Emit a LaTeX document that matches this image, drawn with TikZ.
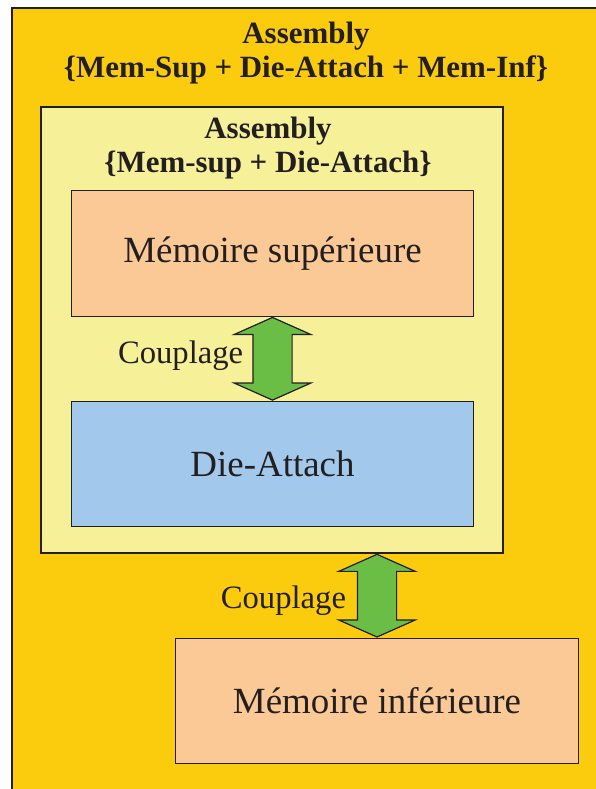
\documentclass[tikz,border=0pt]{standalone}
\usepackage{fontspec}
\setmainfont{Liberation Serif}
\usepackage{tikz}
\usetikzlibrary{shapes.arrows,positioning,calc}
\definecolor{gold}{RGB}{251,204,14}
\definecolor{paleyellow}{RGB}{246,240,153}
\definecolor{peach}{RGB}{251,201,150}
\definecolor{skyblue}{RGB}{162,200,236}
\definecolor{leafgreen}{RGB}{107,190,69}
\definecolor{ink}{RGB}{35,31,32}

\begin{document}
\begin{tikzpicture}[x=0.75pt,y=-0.75pt,text=ink,
  block/.style={draw=ink,line width=0.9pt,minimum width=302pt,minimum height=94pt,inner sep=0pt,font=\fontsize{27.7}{32}\selectfont},
  title/.style={align=center,inner sep=0pt,font=\fontsize{23.2}{25}\selectfont\bfseries},
  link/.style={double arrow,draw=ink,fill=leafgreen,line width=0.9pt,rotate=90,inner xsep=0pt,inner ysep=14.25pt,
    minimum height=62pt,double arrow head extend=14pt,double arrow tip angle=132},
  tag/.style={font=\fontsize{24.5}{28}\selectfont,anchor=east,inner sep=0pt}]
\useasboundingbox (0,0) rectangle (596,789);
\clip (0,0) rectangle (596,789);
\draw[draw=ink,line width=1.3pt,fill=gold] (12,8) rectangle (620,820);
\node[title] (tOuter) at (306,53) {Assembly\\\{Mem-Sup + Die-Attach + Mem-Inf\}};
\node[draw=ink,line width=0.9pt,fill=paleyellow,minimum width=346.5pt,minimum height=334.5pt] (asm) at (272,330) {};
\node[title] (tAsm) at (268,148) {Assembly\\\{Mem-sup + Die-Attach\}};
\node[block,fill=peach] (memsup) at (272.5,253.5) {Mémoire supérieure};
\node[block,fill=skyblue,below=63pt of memsup] (die) {Die-Attach};
\node[block,fill=peach] (meminf) at (377,701) {Mémoire inférieure};
% couplages
\node[link] (ar1) at ($(memsup.south)!.5!(die.north)$) {};
\node[tag] (cp1) at ([xshift=-21.75pt,yshift=2pt]ar1.center) {Couplage};
\node[link] (ar2) at ($(asm.south -| meminf.north)!.5!(meminf.north)$) {};
\node[tag] (cp2) at ([xshift=-23pt,yshift=-4pt]ar2.center) {Couplage};
\end{tikzpicture}
\end{document}
